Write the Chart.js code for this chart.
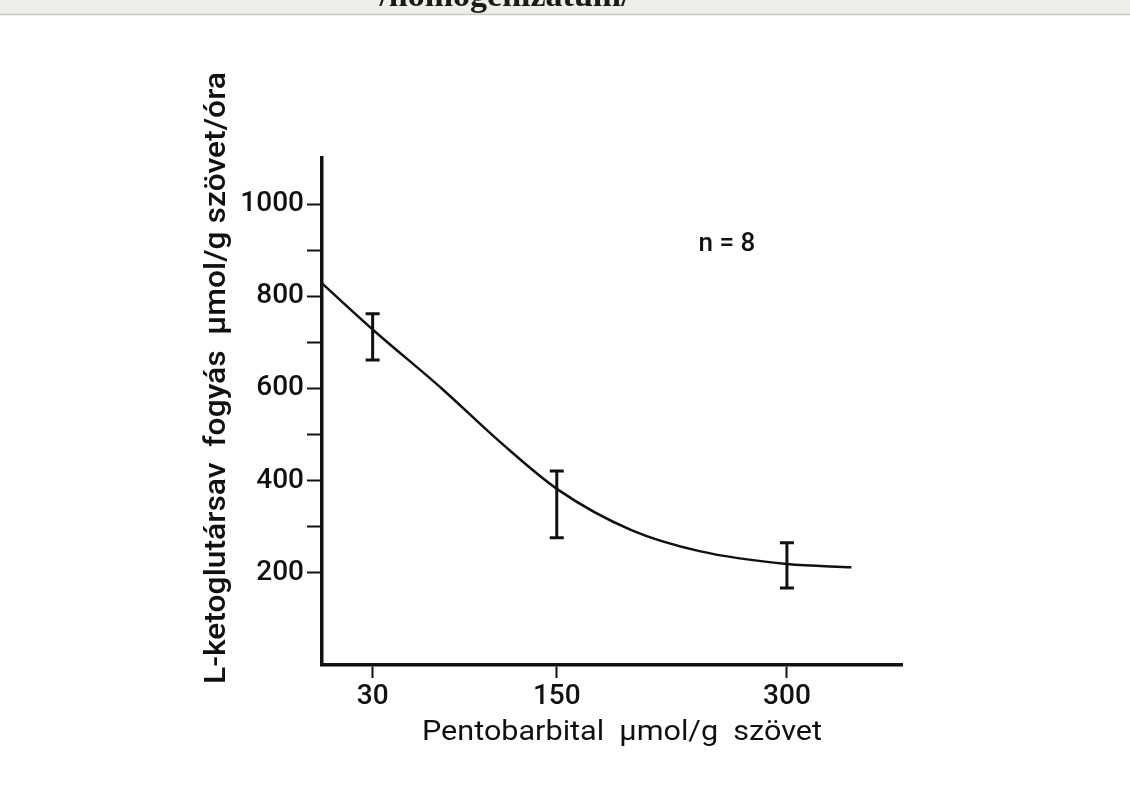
<!DOCTYPE html>
<html>
<head>
<meta charset="utf-8">
<script src="https://cdn.jsdelivr.net/npm/chart.js@4/dist/chart.umd.min.js"></script>
<style>
  html, body { margin: 0; padding: 0; background: #fff; }
  #wrap { width: 1130px; height: 802px; position: relative; }
</style>
</head>
<body>
<div id="wrap"><canvas id="pentoChart" width="1130" height="802"></canvas></div>
<script>
// fitted curve
var curveX = [-3, 30, 75, 113, 151, 199, 243, 300, 342];
var curveY = [828, 728, 600, 484, 380, 292, 247, 219, 212];

// error bars (n = 8)
var errX = [30, 150, 300];
var errLow = [662, 276, 167];
var errHigh = [762, 421, 265];

var xTicks = [30, 150, 300];
var yLabelTicks = [200, 400, 600, 800, 1000];
var yMinorTicks = [300, 500, 700, 900];

var yTitle = "L-ketoglutársav  fogyás  µmol/g szövet/óra";
var xTitle = "Pentobarbital  µmol/g  szövet";
var note = "n = 8";
var topText = "/homogenizátum/";

var labelFont = "Roboto, 'Liberation Sans', sans-serif";

var canvas = document.getElementById("pentoChart");
var ctx = canvas.getContext("2d");

// draw text stretched to a given length (the original lettering is wide)
function stretchText(c, text, cx, cy, len, angle) {
  var w = c.measureText(text).width;
  c.save();
  c.translate(cx, cy);
  c.rotate(angle);
  c.scale(len / w, 1);
  c.fillText(text, 0, 0);
  c.restore();
}

var paperPlugin = {
  id: "paper",
  beforeDraw: function (chart) {
    var c = chart.ctx;
    c.save();
    c.fillStyle = "#ffffff";
    c.fillRect(0, 0, chart.width, chart.height);
    // scanned page edge at the top
    c.fillStyle = "#eceee8";
    c.fillRect(0, 0, chart.width, 14);
    c.strokeStyle = "#c9ccc4";
    c.lineWidth = 1.5;
    c.beginPath();
    c.moveTo(0, 14.5);
    c.lineTo(chart.width, 14.5);
    c.stroke();
    c.fillStyle = "#1a1a1a";
    c.font = "bold 34px 'Liberation Serif', serif";
    c.textAlign = "center";
    c.textBaseline = "alphabetic";
    c.save();
    c.beginPath();
    c.rect(0, 0, chart.width, 13);
    c.clip();
    c.fillText(topText, 505, 6);
    c.restore();
    c.restore();
  },
};

var errorBarPlugin = {
  id: "errorBars",
  afterDatasetsDraw: function (chart) {
    var xs = chart.scales["x"];
    var ys = chart.scales["y"];
    var c = chart.ctx;
    var i, px, top, bot;
    c.save();
    c.strokeStyle = "#111";
    c.lineWidth = 3;
    c.lineCap = "butt";
    for (i = 0; i < errX.length; i++) {
      px = xs.getPixelForValue(errX[i]);
      top = ys.getPixelForValue(errHigh[i]);
      bot = ys.getPixelForValue(errLow[i]);
      c.beginPath();
      c.moveTo(px, top);
      c.lineTo(px, bot);
      c.moveTo(px - 7, top);
      c.lineTo(px + 7, top);
      c.moveTo(px - 7, bot);
      c.lineTo(px + 7, bot);
      c.stroke();
    }
    c.restore();
  },
};

var textPlugin = {
  id: "texts",
  afterDraw: function (chart) {
    var c = chart.ctx;
    var area = chart.chartArea;
    c.save();
    c.fillStyle = "#111";
    c.textAlign = "center";
    c.textBaseline = "middle";
    // y title, rotated
    c.font = "500 29px " + labelFont;
    stretchText(c, yTitle, 218, 378, 612, -Math.PI / 2);
    // x title
    c.font = "28px " + labelFont;
    stretchText(c, xTitle, 622, 733, 400, 0);
    // n = 8
    c.font = "500 26px " + labelFont;
    c.fillText(note, area.left + 405, 244);
    c.restore();
  },
};

Chart.register(paperPlugin, errorBarPlugin, textPlugin);

var pentoChart = new Chart(ctx, {
  type: "line",
  data: {
    datasets: [
      {
        label: "curve",
        data: curveX.map(function (x, i) {
          return { x: x, y: curveY[i] };
        }),
        borderColor: "#111",
        borderWidth: 2.5,
        pointRadius: 0,
        fill: false,
        cubicInterpolationMode: "monotone",
      },
    ],
  },
  options: {
    responsive: false,
    animation: false,
    layout: {
      padding: { left: 0, right: 228, top: 158, bottom: 0 },
    },
    plugins: {
      legend: { display: false },
      tooltip: { enabled: false },
    },
    scales: {
      x: {
        type: "linear",
        min: -3,
        max: 375,
        afterBuildTicks: function (scale) {
          scale.ticks = xTicks.map(function (v) {
            return { value: v };
          });
        },
        afterFit: function (scale) {
          scale.height = 137;
        },
        border: { display: true, color: "#111", width: 3.5 },
        grid: {
          drawOnChartArea: false,
          drawTicks: true,
          tickLength: 13,
          tickWidth: 2,
          tickColor: "#111",
        },
        ticks: {
          autoSkip: false,
          maxRotation: 0,
          padding: 2,
          color: "#111",
          font: { family: labelFont, size: 28, weight: "500" },
        },
      },
      y: {
        type: "linear",
        min: 0,
        max: 1100,
        afterBuildTicks: function (scale) {
          scale.ticks = yLabelTicks
            .concat(yMinorTicks)
            .sort(function (a, b) {
              return a - b;
            })
            .map(function (v) {
              return { value: v };
            });
        },
        afterFit: function (scale) {
          scale.width = 322;
        },
        border: { display: true, color: "#111", width: 3.5 },
        grid: {
          drawOnChartArea: false,
          drawTicks: true,
          tickLength: 15,
          tickWidth: 2,
          tickColor: "#111",
        },
        ticks: {
          autoSkip: false,
          padding: 3,
          color: "#111",
          font: { family: labelFont, size: 28, weight: "500" },
          callback: function (value) {
            return yLabelTicks.indexOf(value) >= 0 ? String(value) : "";
          },
        },
      },
    },
  },
});
</script>
</body>
</html>
